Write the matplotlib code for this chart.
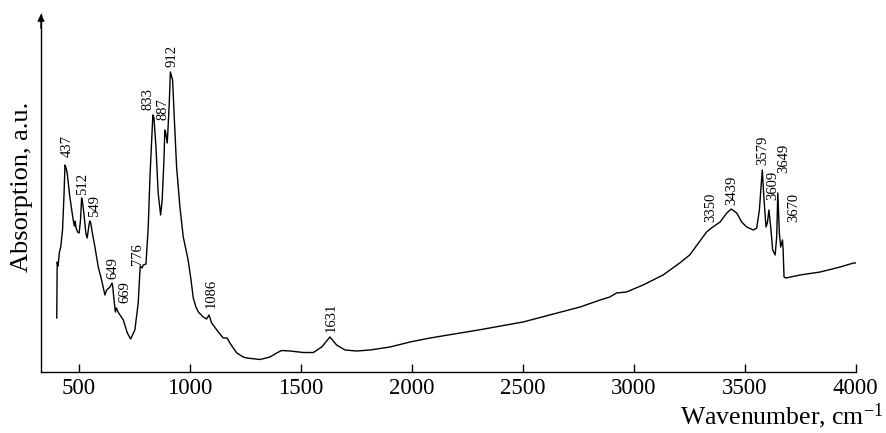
import numpy as np
import matplotlib
matplotlib.use("Agg")
import matplotlib.pyplot as plt

plt.rcParams['font.family'] = ['Liberation Serif', 'DejaVu Serif']
plt.rcParams['mathtext.fontset'] = 'custom'
plt.rcParams['mathtext.rm'] = 'Liberation Serif'
plt.rcParams['mathtext.default'] = 'regular'

# IR spectrum (wavenumber, cm-1 / absorption, a.u.)
wavenumber = [400, 402, 406, 412, 418, 426, 433, 437, 442, 447, 459, 474, 479, 483, 487,
              494, 501, 507, 512, 516, 522, 531, 537, 546, 549, 553, 562, 572, 587, 602,
              617, 625, 640, 649, 652, 658, 664, 669, 676, 700, 718, 733, 752, 767, 776,
              784, 790, 802, 812, 820, 833, 838, 847, 857, 868, 875, 883, 887, 891, 898,
              907, 912, 922, 930, 940, 955, 970, 992, 1005, 1015, 1027, 1038, 1060, 1075,
              1086, 1098, 1128, 1150, 1168, 1180, 1211, 1240, 1256, 1316, 1361, 1391, 1413,
              1451, 1511, 1556, 1594, 1631, 1661, 1699, 1751, 1811, 1902, 1992, 2082, 2300,
              2501, 2758, 2848, 2892, 2922, 2967, 3042, 3132, 3207, 3252, 3298, 3328,
              3350, 3389, 3419, 3439, 3464, 3486, 3509, 3539, 3554, 3566, 3579, 3587,
              3596, 3602, 3609, 3617, 3626, 3637, 3644, 3649, 3656, 3662, 3670, 3673,
              3677, 3686, 3749, 3840, 3930, 3990, 4000]
absorption = [0.54, 1.10, 1.06, 1.20, 1.25, 1.42, 1.79, 2.07, 2.04, 1.99, 1.75, 1.52, 1.46, 1.51, 1.44,
              1.40, 1.39, 1.52, 1.74, 1.70, 1.59, 1.39, 1.34, 1.48, 1.51, 1.49, 1.37, 1.25, 1.05, 0.92,
              0.77, 0.82, 0.85, 0.89, 0.86, 0.72, 0.60, 0.64, 0.60, 0.52, 0.39, 0.33, 0.42, 0.69, 1.06,
              1.04, 1.07, 1.08, 1.44, 1.95, 2.57, 2.54, 2.25, 1.79, 1.57, 1.72, 2.12, 2.42, 2.39, 2.29,
              2.69, 3.00, 2.92, 2.52, 2.05, 1.65, 1.35, 1.12, 0.92, 0.74, 0.65, 0.60, 0.55, 0.53,
              0.57, 0.49, 0.40, 0.34, 0.34, 0.29, 0.19, 0.15, 0.14, 0.125, 0.15, 0.19, 0.215,
              0.21, 0.195, 0.195, 0.25, 0.35, 0.27, 0.22, 0.21, 0.22, 0.25, 0.30, 0.34, 0.42,
              0.50, 0.65, 0.72, 0.75, 0.79, 0.80, 0.87, 0.97, 1.09, 1.17, 1.31, 1.40,
              1.44, 1.50, 1.59, 1.63, 1.59, 1.50, 1.45, 1.42, 1.44, 1.62, 2.02, 1.72,
              1.45, 1.49, 1.62, 1.45, 1.22, 1.17, 1.35, 1.79, 1.39, 1.25, 1.32, 1.22,
              0.95, 0.94, 0.97, 1.00, 1.05, 1.09, 1.09]

peaks = [437, 512, 549, 649, 669, 776, 833, 887, 912, 1086, 1631,
         3350, 3439, 3579, 3609, 3649, 3670]
# label shift from the peak, pixels
label_dx = [2, 1, 5, 1, 8, -3, -5, -2, 2, 2, 1, -1, 1, 0, 4, 6, 11]
label_dy = [8, 3, 4, 4, 5, 1, 5, 10, 5, 7, 5, 6, 4, 5, 10, 20, 18]

xticks = [500, 1000, 1500, 2000, 2500, 3000, 3500, 4000]

W, H, DPI = 886, 433, 100
fig = plt.figure(figsize=(W/DPI, H/DPI), dpi=DPI)
ax = fig.add_axes([41/W, 1 - 372/H, (855.7 - 41)/W, (372 - 14)/H])

ax.plot(wavenumber, absorption, color='k', lw=1.0)

for p, dx, dy in zip(peaks, label_dx, label_dy):
    ax.annotate(str(p), xy=(p, np.interp(p, wavenumber, absorption)),
                xytext=(dx, dy), textcoords='offset pixels',
                rotation=90, ha='center', va='bottom', fontsize=10.5)

ax.set_xlim(329, 4000)
ax.set_ylim(0, 3.58)
ax.set_xticks(xticks)
ax.set_yticks([])
ax.tick_params(axis='x', direction='in', length=6, width=1, labelsize=16.5, pad=4)
ax.spines['top'].set_visible(False)
ax.spines['right'].set_visible(False)
ax.spines['left'].set_linewidth(1)
ax.spines['bottom'].set_linewidth(1)
ax.patch.set_alpha(0)

# arrow on the y axis
ax.annotate('', xy=(0, 1.0), xytext=(0, 0.96), xycoords='axes fraction',
            arrowprops=dict(arrowstyle='-|>', color='k', lw=1,
                            mutation_scale=10, shrinkA=0, shrinkB=0))

fig.text(22/W, 1 - 187/H, 'Absorption, a.u.', rotation=90,
         ha='center', va='center', fontsize=19)
fig.text(883/W, 1 - 416/H, r'Wavenumber, cm$^{-1}$',
         ha='right', va='center', fontsize=18.5)

fig.savefig('out.png', dpi=DPI)
